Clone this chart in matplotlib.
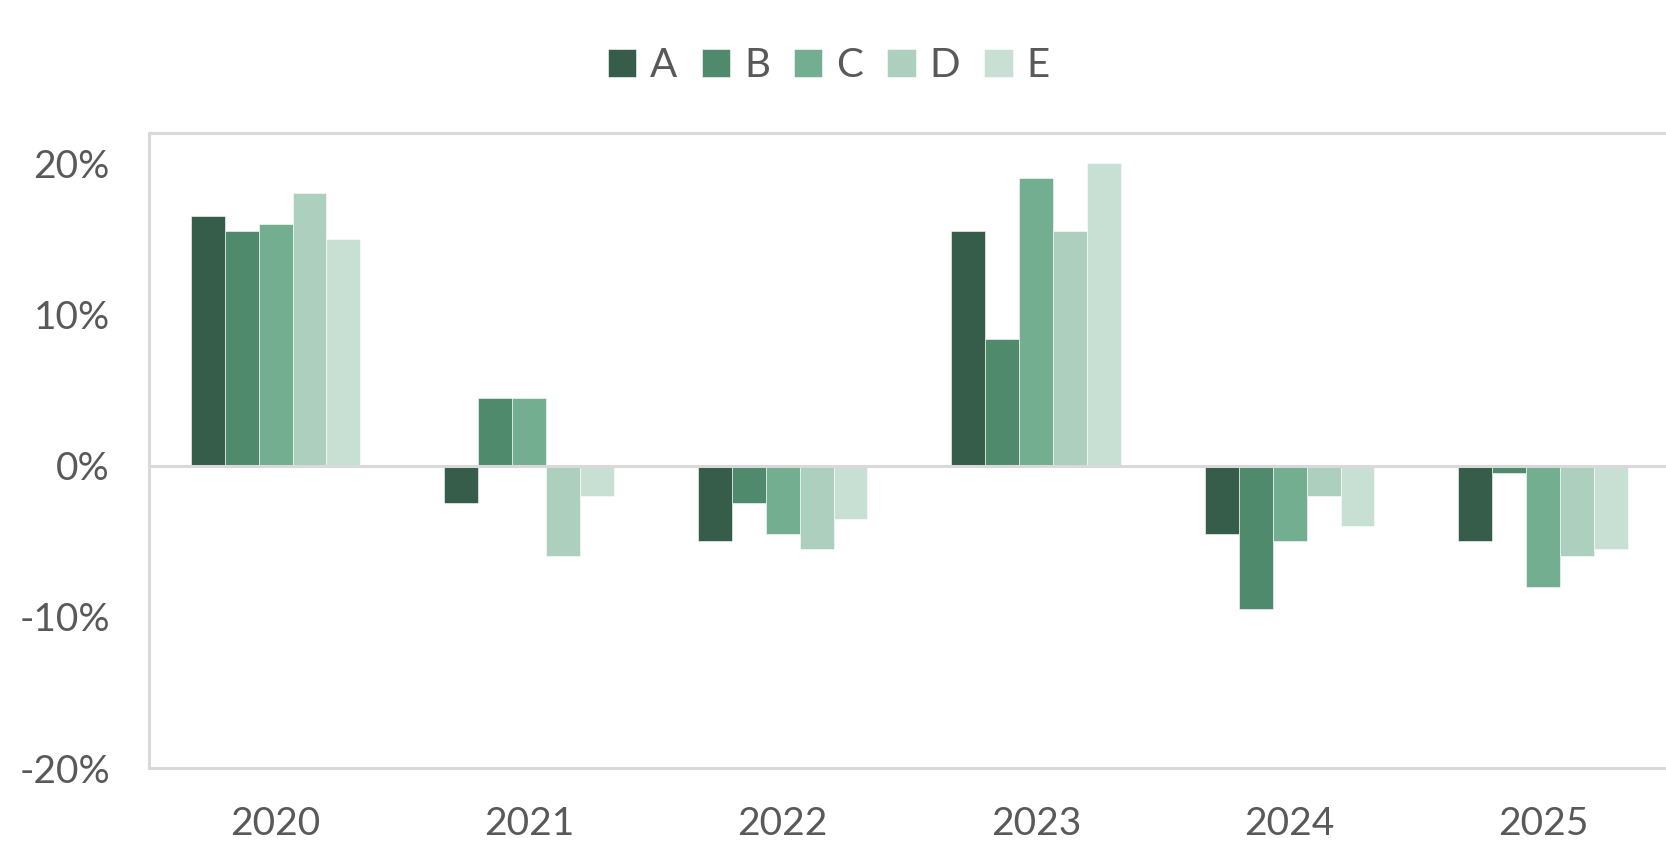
import matplotlib
matplotlib.use("Agg")
import matplotlib.pyplot as plt
import numpy as np

years = ["2020", "2021", "2022", "2023", "2024", "2025"]
series = ["A", "B", "C", "D", "E"]
A = [16.5, -2.5, -5.0, 15.5, -4.5, -5.0]
B = [15.5, 4.5, -2.5, 8.4, -9.5, -0.5]
C = [16.0, 4.5, -4.5, 19.0, -5.0, -8.0]
D = [18.0, -6.0, -5.5, 15.5, -2.0, -6.0]
E = [15.0, -2.0, -3.5, 20.0, -4.0, -5.5]
yticks = [-20, -10, 0, 10, 20]

COLS = ["#365d4a", "#508a6d", "#73ae91", "#adcfbd", "#c8e0d4"]
GREY = "#595959"; LINE = "#d9d9d9"

plt.rcParams["font.family"] = ["Lato", "DejaVu Sans"]

fig = plt.figure(figsize=(16.66, 8.46), dpi=100)
fig.patch.set_facecolor("white")
ax = fig.add_axes([0.0893, 0.092, 0.913, 0.751])

x = np.arange(len(years))
w = 0.134
for i, (name, vals) in enumerate(zip(series, [A, B, C, D, E])):
    ax.bar(x + (i - 2) * w, vals, w, color=COLS[i], label=name,
           edgecolor="white", linewidth=0.4, zorder=2)

ax.axhline(0, color=LINE, lw=2.2, zorder=3)
ax.set_xlim(-0.5, 5.5)
ax.set_ylim(-20, 22)
ax.set_yticks(yticks)
ax.set_yticklabels([f"{t}%" for t in yticks])
ax.set_xticks(x)
ax.set_xticklabels(years)
ax.tick_params(length=0, labelsize=28, colors=GREY)
ax.tick_params(axis="y", pad=28)
ax.tick_params(axis="x", pad=27)
for s in ax.spines.values():
    s.set_color(LINE); s.set_linewidth(2.2)

leg = fig.legend(loc="center", bbox_to_anchor=(0.4975, 0.922), ncol=5, frameon=False,
                 fontsize=29, handlelength=0.7, handleheight=0.7, handletextpad=0.35,
                 columnspacing=0.6, labelcolor=GREY)

fig.savefig("out.png", dpi=100)
